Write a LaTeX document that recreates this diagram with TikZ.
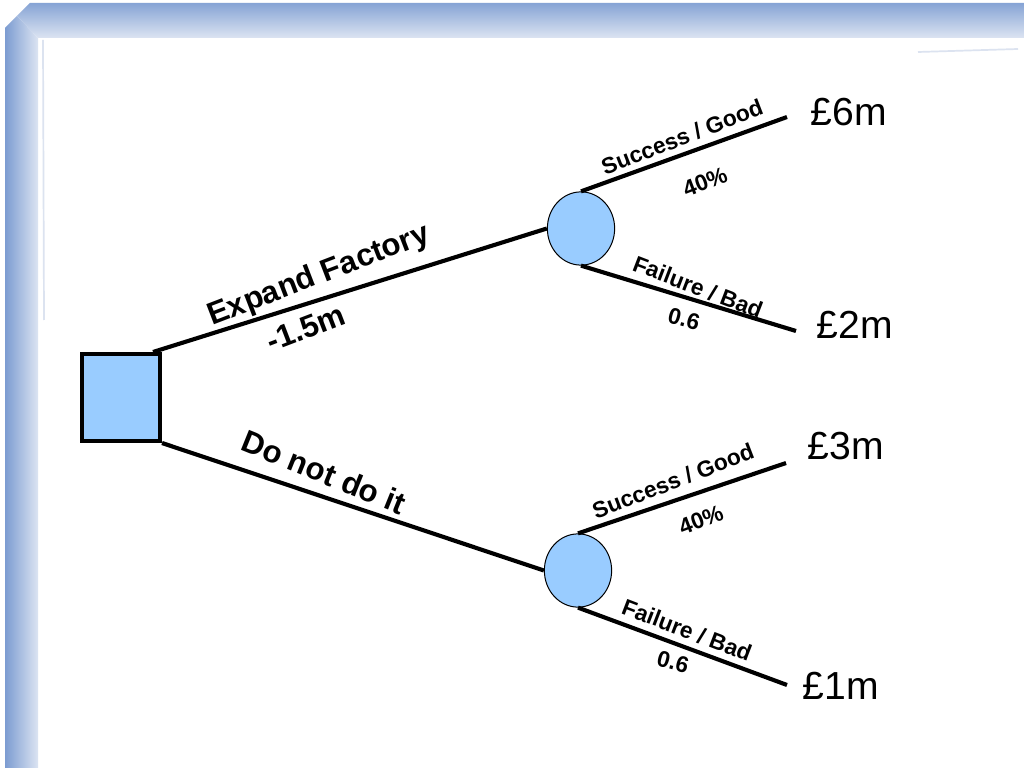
\documentclass[tikz,border=0pt]{standalone}
\usepackage{fontspec}
\setmainfont{Liberation Sans}
\usetikzlibrary{calc,shapes.geometric}
\definecolor{nodefill}{HTML}{99CCFF}
\definecolor{framedark}{HTML}{7C9CD1}
\definecolor{framemid}{HTML}{AEC2E4}
\definecolor{framelight}{HTML}{DCE4F2}
\definecolor{streak}{HTML}{DCE3F0}
\begin{document}
\begin{tikzpicture}[x=0.703125pt,y=-0.703125pt,
  branch/.style={line width=2.9pt},
  decision/.style={draw=black, line width=2.8pt, fill=nodefill, minimum width=54.9pt, minimum height=61.2pt, inner sep=0pt},
  chance/.style={ellipse, draw=black, line width=0.7pt, fill=nodefill, minimum width=47.3pt, minimum height=51.5pt, inner sep=0pt},
  biglabel/.style={font=\bfseries\fontsize{22}{26}\selectfont, inner sep=0pt},
  smalllabel/.style={font=\bfseries\fontsize{16}{19}\selectfont, inner sep=0pt},
  payoff/.style={font=\fontsize{27.5}{32}\selectfont, inner sep=0pt}]
\useasboundingbox (0,0) rectangle (1024,768);
\fill[white] (0,0) rectangle (1024,768);
% frame
\shade[left color=framedark, middle color=framemid, right color=framelight]
  (5,768) -- (5,28) -- (17,16) -- (38,38) -- (38,768) -- cycle;
\shade[top color=framedark!80!framemid, middle color=framemid!70!framelight, bottom color=framelight]
  (17,16) -- (30,3) -- (1024,3) -- (1024,38) -- (38,38) -- cycle;
\draw[streak, line width=1.2pt] (43,40) -- (44,320);
\draw[streak, line width=1.2pt] (918,52) -- (1018,49);
% nodes
\node[decision] (dec) at (121,397.5) {};
\node[chance] (c1) at (581,228.5) {};
\node[chance] (c2) at (578,570.5) {};
\coordinate (e1) at (787,117);
\coordinate (e2) at (796,331);
\coordinate (e3) at (786,463);
\coordinate (e4) at (787,685);
% branches
\draw[branch] ($(dec.north east)+(-9,0)$) -- (c1.west);
\draw[branch] (dec.south east) -- (c2.west);
\draw[branch] (c1.north) -- (e1);
\draw[branch] (c1.south) -- (e2);
\draw[branch] (c2.north) -- (e3);
\draw[branch] (c2.south) -- (e4);
% labels
\node[biglabel, rotate=21] (l1) at (319,276) {Expand Factory};
\node[biglabel, rotate=21] (l2) at (306,328) {-1.5m};
\node[biglabel, rotate=-22] (l3) at (324,472) {Do not do it};
\node[smalllabel, rotate=21] (s1) at (682,137) {Success / Good};
\node[smalllabel, rotate=21] (p1) at (705,182) {40\%};
\node[smalllabel, rotate=-21] (f1) at (698,287) {Failure / Bad};
\node[smalllabel, rotate=-15] (q1) at (684,319) {0.6};
\node[smalllabel, rotate=21] (s2) at (673,481) {Success / Good};
\node[smalllabel, rotate=21] (p2) at (701,520) {40\%};
\node[smalllabel, rotate=-21] (f2) at (687,630) {Failure / Bad};
\node[smalllabel, rotate=-15] (q2) at (673,662) {0.6};
\node[payoff] (v1) at (849,112) {£6m};
\node[payoff] (v2) at (855,325) {£2m};
\node[payoff] (v3) at (846,446) {£3m};
\node[payoff] (v4) at (841,686) {£1m};
\end{tikzpicture}
\end{document}
